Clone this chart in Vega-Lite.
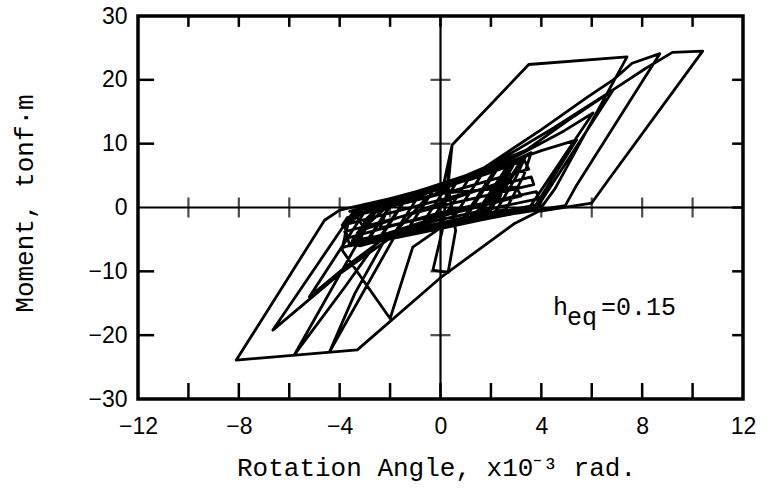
{
  "$schema": "https://vega.github.io/schema/vega-lite/v6.json",
  "width": 605,
  "height": 383,
  "autosize": "none",
  "padding": {"left": 138, "top": 16, "right": 29, "bottom": 98},
  "background": "white",
  "config": {
    "view": {"stroke": "black", "strokeWidth": 3.5},
    "axis": {"grid": false, "domain": false, "ticks": false, "labelColor": "black", "titleColor": "black"}
  },
  "resolve": {"axis": {"x": "independent", "y": "independent"}},
  "datasets": {
    "loop": [
      {"i": 1, "x": 0, "y": 0}, {"i": 2, "x": 0.7, "y": 4.3}, {"i": 3, "x": -0.57, "y": -3.29}, {"i": 4, "x": -0.9, "y": -3.57},
      {"i": 5, "x": 0.35, "y": 3.92}, {"i": 6, "x": 1.2, "y": 4.94}, {"i": 7, "x": -0.1, "y": -2.89}, {"i": 8, "x": -1.4, "y": -3.99},
      {"i": 9, "x": -0.19, "y": 3.27}, {"i": 10, "x": 1.7, "y": 5.54}, {"i": 11, "x": 0.36, "y": -2.49}, {"i": 12, "x": -1.9, "y": -4.42},
      {"i": 13, "x": -0.73, "y": 2.63}, {"i": 14, "x": 2.2, "y": 6.14}, {"i": 15, "x": 0.83, "y": -2.1}, {"i": 16, "x": -2.4, "y": -4.84},
      {"i": 17, "x": -1.26, "y": 1.99}, {"i": 18, "x": 2.7, "y": 6.74}, {"i": 19, "x": 1.29, "y": -1.7}, {"i": 20, "x": -2.9, "y": -5.27},
      {"i": 21, "x": -1.8, "y": 1.34}, {"i": 22, "x": 3.2, "y": 7.34}, {"i": 23, "x": 1.76, "y": -1.31}, {"i": 24, "x": -3.4, "y": -5.69},
      {"i": 25, "x": -2.34, "y": 0.7}, {"i": 26, "x": 2.25, "y": 6.0}, {"i": 27, "x": 0.9, "y": -2.2}, {"i": 28, "x": -2.45, "y": -4.95},
      {"i": 29, "x": -1.3, "y": 1.9}, {"i": 30, "x": 2.75, "y": 6.6}, {"i": 31, "x": 1.35, "y": -1.8}, {"i": 32, "x": -2.95, "y": -5.4},
      {"i": 33, "x": -1.85, "y": 1.2}, {"i": 34, "x": 3.25, "y": 7.2}, {"i": 35, "x": 1.8, "y": -1.4}, {"i": 36, "x": -3.45, "y": -5.8},
      {"i": 37, "x": -2.4, "y": 0.6},
      {"i": 37.01, "x": 1.0, "y": 4.6}, {"i": 37.02, "x": 2.9, "y": 7.0}, {"i": 37.03, "x": 2.2, "y": 3.0}, {"i": 37.04, "x": 1.5, "y": -1.6},
      {"i": 37.05, "x": -0.5, "y": -3.4}, {"i": 37.06, "x": -3.0, "y": -5.6}, {"i": 37.07, "x": -3.3, "y": -4.0}, {"i": 37.08, "x": -2.6, "y": -0.8},
      {"i": 37.09, "x": -1.0, "y": 1.6}, {"i": 37.10, "x": 1.5, "y": 4.9}, {"i": 37.11, "x": 3.0, "y": 7.5}, {"i": 37.12, "x": 2.6, "y": 4.5},
      {"i": 37.13, "x": 1.9, "y": -0.5}, {"i": 37.14, "x": 0.5, "y": -2.3}, {"i": 37.15, "x": -1.5, "y": -4.1}, {"i": 37.16, "x": -3.6, "y": -6.0},
      {"i": 37.17, "x": -3.8, "y": -3.0}, {"i": 37.18, "x": -3.1, "y": -0.2}, {"i": 37.19, "x": -0.5, "y": 2.6}, {"i": 37.20, "x": 2.0, "y": 5.6},
      {"i": 37.21, "x": 3.4, "y": 8.2}, {"i": 37.22, "x": 3.0, "y": 4.8}, {"i": 37.23, "x": 2.2, "y": -0.6}, {"i": 37.24, "x": 0.2, "y": -2.5},
      {"i": 37.25, "x": -2.0, "y": -4.3}, {"i": 37.26, "x": -3.2, "y": -5.9}, {"i": 37.27, "x": -3.0, "y": -2.0}, {"i": 37.28, "x": -2.2, "y": 1.0},
      {"i": 37.29, "x": 0.5, "y": 3.6}, {"i": 37.30, "x": 2.4, "y": 6.3}, {"i": 37.31, "x": 3.6, "y": 8.6}, {"i": 37.32, "x": 3.3, "y": 5.0},
      {"i": 37.33, "x": 2.6, "y": -0.3}, {"i": 37.34, "x": 0.8, "y": -1.7}, {"i": 37.35, "x": -1.2, "y": -3.5}, {"i": 37.36, "x": -2.8, "y": -5.0},
      {"i": 37.37, "x": -3.9, "y": -6.3}, {"i": 37.38, "x": -3.6, "y": -1.5}, {"i": 37.39, "x": -3.2, "y": 0.2}, {"i": 37.40, "x": -1.5, "y": 1.8},
      {"i": 37.41, "x": 1.2, "y": 4.4}, {"i": 37.42, "x": 2.8, "y": 6.6}, {"i": 37.43, "x": 2.1, "y": 1.5}, {"i": 37.44, "x": 1.0, "y": -2.0},
      {"i": 37.45, "x": -1.8, "y": -4.0}, {"i": 37.46, "x": -3.5, "y": -5.2}, {"i": 37.47, "x": -2.7, "y": -1.0}, {"i": 37.48, "x": -2.0, "y": 0.9},
      {"i": 37.49, "x": -3.6, "y": -0.6}, {"i": 37.50, "x": 1.5, "y": 5.2}, {"i": 37.51, "x": 3.3, "y": 7.6}, {"i": 37.52, "x": 3.5, "y": 6.0},
      {"i": 37.53, "x": 0.5, "y": 2.6}, {"i": 37.54, "x": -3.7, "y": -1.6}, {"i": 37.55, "x": -3.9, "y": -2.8}, {"i": 37.56, "x": 0, "y": 1.2},
      {"i": 37.57, "x": 3.6, "y": 4.8}, {"i": 37.58, "x": 3.7, "y": 3.6}, {"i": 37.59, "x": 0, "y": 0.2}, {"i": 37.60, "x": -3.8, "y": -3.8},
      {"i": 37.61, "x": -3.7, "y": -4.8}, {"i": 37.62, "x": 0, "y": -0.8}, {"i": 37.63, "x": 3.8, "y": 2.5}, {"i": 37.64, "x": 3.9, "y": 1.4},
      {"i": 37.65, "x": 0, "y": -1.9}, {"i": 37.66, "x": -3.6, "y": -5.6}, {"i": 37.67, "x": -3.2, "y": -6.0}, {"i": 37.68, "x": 0, "y": -2.6},
      {"i": 37.69, "x": 3.9, "y": 0.5}, {"i": 37.70, "x": 3.6, "y": -0.3}, {"i": 37.71, "x": 0, "y": -3.3}, {"i": 37.72, "x": -2.8, "y": -5.6},
      {"i": 37.73, "x": -3.0, "y": -5.2}, {"i": 37.74, "x": 0, "y": -1.4}, {"i": 37.75, "x": 3.2, "y": 1.8}, {"i": 37.76, "x": 3.0, "y": 3.2},
      {"i": 37.77, "x": 0, "y": 2.2}, {"i": 37.78, "x": -3.4, "y": -1.0}, {"i": 37.79, "x": -3.0, "y": -3.4}, {"i": 37.80, "x": 0, "y": 0.7},
      {"i": 37.81, "x": 2.6, "y": 4.2}, {"i": 37.82, "x": 2.3, "y": 1.0}, {"i": 37.83, "x": 0, "y": -1.1}, {"i": 37.84, "x": -2.4, "y": -3.2},
      {"i": 37.85, "x": -2.0, "y": 0.9},
      {"i": 38, "x": 0, "y": 3.3}, {"i": 39, "x": 2.0, "y": 6.1}, {"i": 40, "x": 4.0, "y": 8.9},
      {"i": 41, "x": 5.4, "y": 10.6}, {"i": 42, "x": 3.75, "y": 0.2}, {"i": 43, "x": 2.0, "y": -1.3}, {"i": 44, "x": 0, "y": -2.9},
      {"i": 45, "x": -2.2, "y": -4.7}, {"i": 46, "x": -3.8, "y": -9.4}, {"i": 47, "x": -5.2, "y": -14.0}, {"i": 48, "x": -2.95, "y": -0.3},
      {"i": 49, "x": -1.6, "y": 1.7}, {"i": 50, "x": 0.6, "y": 4.4}, {"i": 51, "x": 3.0, "y": 8.0}, {"i": 52, "x": 4.9, "y": 12.0},
      {"i": 53, "x": 6.05, "y": 14.8}, {"i": 54, "x": 3.55, "y": 0.1}, {"i": 55, "x": 2.0, "y": -1.2}, {"i": 56, "x": 0, "y": -3.0},
      {"i": 57, "x": -2.0, "y": -4.8}, {"i": 58, "x": -4.0, "y": -10.4}, {"i": 59, "x": -6.65, "y": -19.2}, {"i": 60, "x": -3.5, "y": -0.9},
      {"i": 61, "x": -2.8, "y": 0.5}, {"i": 62, "x": -1.0, "y": 2.4}, {"i": 63, "x": 1.0, "y": 5.0}, {"i": 64, "x": 3.4, "y": 9.0},
      {"i": 65, "x": 5.3, "y": 14.3}, {"i": 66, "x": 6.85, "y": 18.4}, {"i": 67, "x": 3.85, "y": 0.1}, {"i": 68, "x": 2.5, "y": -1.1},
      {"i": 69, "x": 0, "y": -3.2}, {"i": 70, "x": -1.1, "y": -6.2}, {"i": 71, "x": -2.0, "y": -17.4}, {"i": 72, "x": -3.9, "y": -6.7},
      {"i": 73, "x": -3.7, "y": -2.6}, {"i": 74, "x": -2.6, "y": 0.6}, {"i": 75, "x": -0.8, "y": 2.6}, {"i": 76, "x": 0.1, "y": 3.2},
      {"i": 77, "x": 0.46, "y": 9.8}, {"i": 78, "x": 0.25, "y": 3.0}, {"i": 79, "x": 0.1, "y": -3.1}, {"i": 80, "x": -0.3, "y": -9.8},
      {"i": 81, "x": 0.3, "y": -10.2}, {"i": 82, "x": 0.6, "y": -3.6}, {"i": 83, "x": 0.3, "y": 3.4}, {"i": 84, "x": 0.46, "y": 9.8},
      {"i": 85, "x": 3.5, "y": 22.4}, {"i": 86, "x": 7.4, "y": 23.6}, {"i": 87, "x": 4.55, "y": 3.0}, {"i": 88, "x": 4.05, "y": 0.3},
      {"i": 89, "x": 2.5, "y": -1.0}, {"i": 90, "x": 0, "y": -3.0}, {"i": 91, "x": -2.2, "y": -5.0}, {"i": 92, "x": -3.4, "y": -13.5},
      {"i": 93, "x": -4.4, "y": -22.6}, {"i": 94, "x": -1.6, "y": -3.0}, {"i": 95, "x": -0.6, "y": 1.3}, {"i": 96, "x": 1.6, "y": 5.9},
      {"i": 97, "x": 4.0, "y": 12.2}, {"i": 98, "x": 5.8, "y": 17.2}, {"i": 99, "x": 6.85, "y": 20.0}, {"i": 100, "x": 7.6, "y": 22.6},
      {"i": 101, "x": 8.7, "y": 24.1}, {"i": 102, "x": 5.4, "y": 3.5}, {"i": 103, "x": 4.95, "y": 0.3}, {"i": 104, "x": 3.0, "y": -0.9},
      {"i": 105, "x": 0, "y": -3.2}, {"i": 106, "x": -2.5, "y": -5.3}, {"i": 107, "x": -3.8, "y": -12.5}, {"i": 108, "x": -5.8, "y": -23.1},
      {"i": 109, "x": -2.85, "y": -2.5}, {"i": 110, "x": -2.0, "y": 0.6}, {"i": 111, "x": 0, "y": 3.2}, {"i": 112, "x": 2.0, "y": 6.6},
      {"i": 113, "x": 4.5, "y": 12.5}, {"i": 114, "x": 6.6, "y": 17.8}, {"i": 115, "x": 8.1, "y": 21.7}, {"i": 116, "x": 9.2, "y": 24.3},
      {"i": 117, "x": 10.4, "y": 24.5}, {"i": 118, "x": 6.6, "y": 4.0}, {"i": 119, "x": 6.0, "y": 0.7}, {"i": 120, "x": 3.9, "y": -0.6},
      {"i": 121, "x": 2.9, "y": -2.6}, {"i": 122, "x": 0, "y": -11.0}, {"i": 123, "x": -3.3, "y": -22.3}, {"i": 124, "x": -8.1, "y": -23.9},
      {"i": 125, "x": -4.6, "y": -2.0}, {"i": 126, "x": -4.0, "y": -0.4}, {"i": 127, "x": -2.0, "y": 1.4}, {"i": 128, "x": 0, "y": 3.5},
      {"i": 129, "x": 0.5, "y": 3.9}
    ],
    "xcross": [
      {"x": -10, "y": 0}, {"x": -8, "y": 0}, {"x": -6, "y": 0}, {"x": -4, "y": 0}, {"x": -2, "y": 0},
      {"x": 2, "y": 0}, {"x": 4, "y": 0}, {"x": 6, "y": 0}, {"x": 8, "y": 0}, {"x": 10, "y": 0}
    ],
    "ycross": [
      {"x": 0, "y": -20}, {"x": 0, "y": -10}, {"x": 0, "y": 10}, {"x": 0, "y": 20}
    ],
    "hTicks": [
      {"x": -10, "y": -30, "y2": -27.5}, {"x": -8, "y": -30, "y2": -27.5}, {"x": -6, "y": -30, "y2": -27.5}, {"x": -4, "y": -30, "y2": -27.5},
      {"x": -2, "y": -30, "y2": -27.5}, {"x": 0, "y": -30, "y2": -27.5}, {"x": 2, "y": -30, "y2": -27.5}, {"x": 4, "y": -30, "y2": -27.5},
      {"x": 6, "y": -30, "y2": -27.5}, {"x": 8, "y": -30, "y2": -27.5}, {"x": 10, "y": -30, "y2": -27.5},
      {"x": -10, "y": 30, "y2": 28.3}, {"x": -8, "y": 30, "y2": 28.3}, {"x": -6, "y": 30, "y2": 28.3}, {"x": -4, "y": 30, "y2": 28.3},
      {"x": -2, "y": 30, "y2": 28.3}, {"x": 0, "y": 30, "y2": 28.3}, {"x": 2, "y": 30, "y2": 28.3}, {"x": 4, "y": 30, "y2": 28.3},
      {"x": 6, "y": 30, "y2": 28.3}, {"x": 8, "y": 30, "y2": 28.3}, {"x": 10, "y": 30, "y2": 28.3}
    ],
    "vTicks": [
      {"x": -12, "x2": -11.36, "y": -20}, {"x": -12, "x2": -11.36, "y": -10}, {"x": -12, "x2": -11.36, "y": 10}, {"x": -12, "x2": -11.36, "y": 20},
      {"x": 12, "x2": 11.57, "y": -20}, {"x": 12, "x2": 11.57, "y": -10}, {"x": 12, "x2": 11.57, "y": 0}, {"x": 12, "x2": 11.57, "y": 10}, {"x": 12, "x2": 11.57, "y": 20}
    ],
    "note": [
      {"x": 4.46, "y": -16.85, "t": "h"},
      {"x": 5.02, "y": -18.4, "t": "eq"},
      {"x": 6.37, "y": -16.85, "t": "=0.15"}
    ]
  },
  "encoding": {
    "x": {"field": "x", "type": "quantitative", "scale": {"domain": [-12, 12], "nice": false, "zero": false}, "axis": null},
    "y": {"field": "y", "type": "quantitative", "scale": {"domain": [-30, 30], "nice": false, "zero": false}, "axis": null}
  },
  "layer": [
    {
      "data": {"values": [{"y": 0}]},
      "mark": {"type": "rule", "color": "black", "strokeWidth": 2.2},
      "encoding": {"x": null}
    },
    {
      "data": {"values": [{"x": 0}]},
      "mark": {"type": "rule", "color": "black", "strokeWidth": 2.2},
      "encoding": {"y": null}
    },
    {
      "data": {"name": "xcross"},
      "mark": {"type": "tick", "orient": "vertical", "color": "black", "size": 20, "thickness": 2.2}
    },
    {
      "data": {"name": "ycross"},
      "mark": {"type": "tick", "orient": "horizontal", "color": "black", "size": 20, "thickness": 2.2}
    },
    {
      "data": {"name": "hTicks"},
      "mark": {"type": "rule", "color": "black", "strokeWidth": 2.5},
      "encoding": {"y2": {"field": "y2"}}
    },
    {
      "data": {"name": "vTicks"},
      "mark": {"type": "rule", "color": "black", "strokeWidth": 2.5},
      "encoding": {"x2": {"field": "x2"}}
    },
    {
      "data": {"name": "loop"},
      "mark": {"type": "line", "color": "black", "strokeWidth": 2.8, "strokeJoin": "round", "strokeCap": "round"},
      "encoding": {
        "x": {"field": "x", "type": "quantitative", "scale": {"domain": [-12, 12], "nice": false, "zero": false},
          "axis": {"orient": "bottom", "values": [-12, -8, -4, 0, 4, 8, 12],
            "labelPadding": 16, "labelFlush": false, "labelOverlap": false,
            "labelFont": "Liberation Sans", "labelFontSize": 23,
            "title": "Rotation Angle, x10⁻³ rad.", "titleFont": "Liberation Mono", "titleFontSize": 26, "titleFontWeight": "normal",
            "titleX": 298, "titleY": 76, "titleAlign": "center", "titleBaseline": "alphabetic"}},
        "y": {"field": "y", "type": "quantitative", "scale": {"domain": [-30, 30], "nice": false, "zero": false},
          "axis": {"orient": "left", "values": [-30, -20, -10, 0, 10, 20, 30],
            "labelPadding": 11, "labelFlush": false, "labelOverlap": false,
            "labelFont": "Liberation Sans", "labelFontSize": 23,
            "title": "Moment, tonf·m", "titleFont": "Liberation Mono", "titleFontSize": 26, "titleFontWeight": "normal",
            "titleAngle": -90, "titleX": -114, "titleY": 187, "titleAlign": "center", "titleBaseline": "middle"}},
        "order": {"field": "i", "type": "quantitative"}
      }
    },
    {
      "data": {"name": "note"},
      "mark": {"type": "text", "color": "black", "font": "Liberation Mono", "fontSize": 25, "align": "left", "baseline": "alphabetic"},
      "encoding": {"text": {"field": "t"}}
    }
  ]
}
